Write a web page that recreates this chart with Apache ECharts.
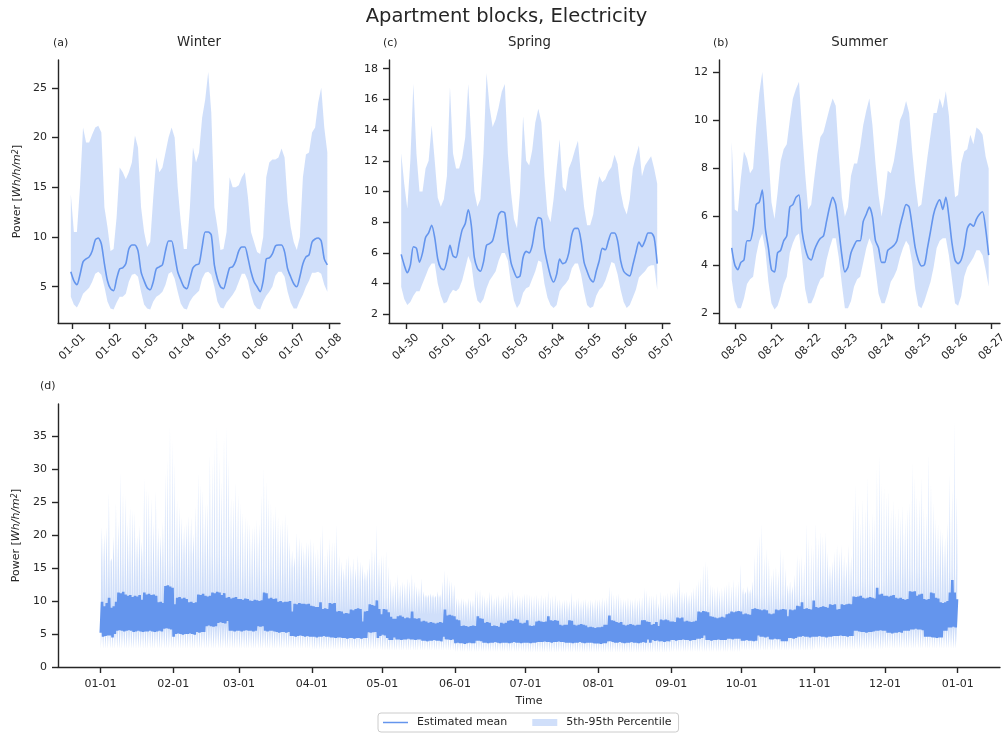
<!DOCTYPE html>
<html><head><meta charset="utf-8">
<script src="https://cdn.jsdelivr.net/npm/echarts@6/dist/echarts.min.js"></script>
<style>html,body{margin:0;padding:0;background:#fff}#c{width:1006px;height:735px}</style>
</head><body><div id="c"></div>
<script>
// ---------------- DATA ----------------
// Top panels: values every 2 hours (hour offsets relative to first labelled day 00:00)
const winterStartHour = -1, springStartHour = -3, summerStartHour = -2, stepHours = 2;
const winterLabels = ['01-01','01-02','01-03','01-04','01-05','01-06','01-07','01-08'];
const springLabels = ['04-30','05-01','05-02','05-03','05-04','05-05','05-06','05-07'];
const summerLabels = ['08-20','08-21','08-22','08-23','08-24','08-25','08-26','08-27'];

const winterMean = [6.5, 5.6,5.2,6.2,7.5,7.8,8.0,8.6,9.7,9.9,9.3,7.3,5.6, 4.8,4.6,5.8,6.8,6.9,7.3,8.8,9.2,9.2,8.6,6.5,5.6, 4.9,4.7,5.5,6.8,7.0,7.2,8.6,9.6,9.6,8.2,6.5,5.7, 5.0,4.8,5.8,6.9,7.2,7.3,9.0,10.5,10.5,10.2,7.2,5.8, 5.0,4.8,5.8,6.9,7.0,7.6,8.6,9.0,9.0,7.9,6.5,5.5, 5.0,4.5,5.6,7.8,7.9,8.3,9.1,9.2,9.2,8.5,6.8,6.0, 5.3,5.0,6.0,7.3,8.0,8.2,9.5,9.8,9.9,9.6,7.8,7.2];
const winterP95 = [14.3, 10.5,10.5,15,21,19.5,19.5,20.3,21,21.2,20.5,13,11, 8.6,8.8,12,17,16.5,15.8,16.5,17.5,20.2,19,13,10.5, 9,9.5,14,18,16.5,17,18.5,20,21,20,15,11.5, 8.8,8.8,13,19,17.5,18.5,22,23.8,26.6,22.5,13,11, 8.7,8.8,10.5,16,15,15,15.2,16,16.5,14,10.5,9.5, 8.5,8.3,10,16,17.5,17.8,17.8,18,18.9,18,13.5,11, 9.5,8.7,10,16,18.3,18.5,20.5,21,23.5,25,21,18.5];
const winterP5 = [4.0, 3.2,2.9,3.5,4.3,4.6,4.9,5.5,6.3,6.5,6.2,5.0,3.5, 2.8,2.7,3.4,4.0,4.0,4.3,5.5,6.2,6.3,6.0,4.5,3.2, 2.8,2.7,3.5,4.0,4.2,4.5,5.2,6.3,6.5,5.8,4.5,3.3, 2.8,2.7,3.5,4.0,4.3,4.6,5.8,6.4,6.5,6.2,5.0,3.5, 2.9,2.8,3.4,3.8,4.2,4.7,5.5,6.3,6.3,5.6,4.2,3.2, 2.8,2.7,3.5,4.1,4.5,5.0,6.1,6.5,6.5,6.0,4.5,3.4, 2.8,2.8,3.6,4.2,5.0,5.6,6.4,6.4,6.5,6.3,5.2,4.5];

const springMean = [5.9,5.2, 4.7,5.2,6.4,6.3,5.4,6.0,7.0,7.3,7.8,7.0,5.6,5.0, 4.9,5.5,6.5,5.8,5.7,6.6,7.5,7.9,8.8,7.8,5.7,5.0, 4.8,5.4,6.5,6.6,6.8,7.6,8.5,8.7,8.6,6.8,5.4,4.8, 4.4,4.5,5.7,6.1,6.0,6.5,7.7,8.3,8.2,6.3,5.3,4.5, 4.1,4.6,5.6,5.3,5.4,6.0,7.2,7.6,7.6,6.8,5.4,4.8, 4.3,4.1,4.8,5.5,6.3,6.2,6.8,7.3,7.3,6.8,5.5,4.8, 4.6,4.5,5.2,6.0,6.7,6.4,6.8,7.3,7.3,7.0,5.3];
const springP95 = [12.5,10.5, 8.9,12,17,12.5,10,10,11.5,12,14.3,12,9.6,9, 9.5,11,16.8,12.5,11.5,11.5,12.2,13.5,17,13.5,10,9, 9.5,12.5,17.7,15.5,14.2,14.7,15.5,16.5,17,12.5,10,8.2, 7.6,10,14.9,12,11.7,12.7,14.5,15.4,14.5,11,8.5,8, 9.5,11.5,13.4,10.3,10,11.5,12,12.7,13.3,11,9,7.8, 7.8,8.5,10,11,10.6,10.8,11.3,11.6,12.4,11.8,10,9, 8.5,9.5,11.5,12.3,13,11,11.7,12,12.3,11.5,10.5];
const springP5 = [3.8,3.0, 2.6,2.8,3.2,3.5,3.5,4.0,4.5,5.0,5.3,5.3,4.0,3.2, 2.7,2.8,3.3,3.6,3.5,3.7,4.2,5.0,5.8,5.3,3.8,2.9, 2.7,3.0,3.7,4.2,4.5,4.8,5.5,6.0,6.0,5.5,4.0,2.9, 2.4,2.7,3.4,3.7,3.8,4.3,4.8,5.5,5.4,4.0,3.1,2.6, 2.4,2.6,3.5,3.8,4.0,4.3,5.0,5.3,5.3,4.6,3.5,2.6, 2.4,2.5,3.2,3.6,3.8,4.2,4.8,5.4,5.3,4.6,3.6,2.8, 2.4,2.6,3.1,3.6,4.4,4.6,4.8,5.1,5.2,5.2,3.6];

const summerMean = [4.7, 4.0,3.8,4.1,4.2,5.0,5.0,5.5,6.5,6.6,7.1,5.5,4.7, 3.8,3.7,4.5,4.6,5.0,5.2,6.4,6.5,6.8,6.9,5.4,4.7, 4.3,4.2,4.6,4.9,5.1,5.2,5.8,6.4,6.8,6.5,5.5,4.4, 3.7,3.9,4.5,4.8,5.0,5.0,5.8,6.1,6.4,6.0,5.0,4.7, 4.1,4.1,4.6,4.7,4.8,5.0,5.6,6.1,6.5,6.4,5.6,4.7, 4.2,3.95,4.0,4.7,5.4,6.1,6.5,6.7,6.3,6.8,6.0,4.9, 4.2,4.05,4.2,4.7,5.5,5.7,5.6,5.9,6.1,6.2,5.5,4.4];
const summerP95 = [9.1, 6.3,6.2,7.6,8.7,8.4,7.8,8.0,9.7,11.1,12,10.3,8.6, 6.6,5.9,7.0,8.3,8.8,9.0,10.0,10.9,11.3,11.6,9.6,7.8, 6.3,6.5,7.6,8.6,9.3,9.5,10,10.5,10.9,10.6,8.6,6.8, 6.0,6.4,7.7,8.2,8.2,8.9,9.8,10.4,10.9,9.8,8.2,6.9, 6.0,6.8,7.9,7.8,8.3,9.1,10.0,10.3,10.8,10.3,8.7,7.4, 6.4,6.5,7.5,8.5,9.4,10.3,10.3,10.9,10.5,11.2,10.2,8.3, 6.8,6.9,8.2,8.7,8.8,9.4,9.0,9.7,9.6,9.4,8.5,8.0];
const summerP5 = [3.4, 2.5,2.2,2.2,2.6,3.2,3.4,3.5,4.4,5.0,5.3,4.6,3.3, 2.4,2.15,2.3,2.7,3.2,3.5,4.5,4.9,5.2,5.3,4.3,3.0, 2.4,2.4,2.7,3.1,3.4,3.5,4.2,4.7,5.1,5.1,4.3,3.2, 2.2,2.2,2.5,3.1,3.4,3.5,4.1,4.7,5.1,4.8,3.8,2.8, 2.4,2.4,2.8,3.3,3.5,3.8,4.3,4.7,5.0,4.8,4.1,3.0, 2.3,2.2,2.5,2.9,3.3,3.9,4.7,5.0,5.1,5.1,4.4,3.4, 2.4,2.3,2.7,3.5,3.9,4.1,4.3,4.6,4.6,4.4,3.8,3.1];

// Bottom panel: daily values over the year (day 0 = 01-01)
const monthTicks = [0,31,59,90,120,151,181,212,243,273,304,334,365];
const monthLabels = ['01-01','02-01','03-01','04-01','05-01','06-01','07-01','08-01','09-01','10-01','11-01','12-01','01-01'];

const yearMeanHigh = [
 9.9,9.2,9.7,10.5,9.0,9.2,9.9,11.3,11.2,11.4,11.0,10.8,10.9,10.6,10.8,10.7,10.9,10.2,11.3,11.0,11.1,10.9,11.0,10.8,9.8,9.9,9.7,12.3,12.4,12.2,12.0,
 9.5,10.5,10.6,10.4,10.5,10.3,9.8,9.9,9.7,9.8,11.0,10.9,11.1,10.8,10.7,10.8,11.3,11.2,11.4,11.3,10.9,11.2,10.5,10.6,10.4,10.5,10.6,10.3,
 10.3,10.2,10.4,10.3,10.1,10.0,10.2,10.1,10.0,10.1,11.3,11.2,10.4,10.5,10.3,10.4,9.9,10.0,9.8,9.9,9.9,10.0,8.4,9.6,9.5,9.7,9.6,9.6,9.5,9.6,9.3,
 9.2,9.1,9.1,9.8,8.8,8.9,8.8,9.7,9.6,9.7,8.4,8.5,8.4,8.1,8.2,8.1,8.7,8.6,8.8,8.9,8.8,6.9,8.4,8.5,9.5,9.4,9.3,10.1,8.8,8.0,
 8.8,8.7,8.3,7.6,7.3,7.3,7.7,7.8,7.6,7.4,7.5,7.4,8.4,7.4,7.3,7.4,6.9,7.0,6.9,6.7,6.8,6.7,6.6,6.7,6.8,6.7,8.7,7.8,7.9,7.8,7.7,
 7.2,7.1,6.2,6.3,6.2,6.1,6.2,6.3,6.2,7.7,7.4,7.3,6.7,6.8,6.7,6.2,6.3,6.2,6.1,6.7,6.6,6.7,7.0,7.1,7.0,7.3,7.2,6.7,6.6,6.7,
 7.1,6.3,6.2,6.3,6.9,7.0,6.9,6.8,6.9,7.7,7.1,7.0,7.1,7.0,6.4,6.3,6.4,6.4,7.1,7.0,6.4,6.3,6.4,6.5,6.4,6.3,6.0,6.1,6.0,5.9,6.0,
 6.0,6.1,6.4,6.4,7.8,7.1,7.0,6.8,6.7,6.8,6.4,6.3,6.4,6.5,6.4,6.3,6.4,6.4,7.1,7.1,6.9,6.8,6.4,6.5,6.8,6.2,7.2,7.1,7.2,7.1,6.9,
 6.9,6.8,7.5,7.4,7.5,6.9,7.0,6.9,6.8,6.9,7.0,8.4,8.3,8.5,8.4,8.3,7.7,7.6,7.5,7.4,7.5,7.6,7.5,8.0,8.1,8.4,8.3,8.4,8.5,8.4,
 8.0,8.1,8.0,7.9,8.8,8.9,8.8,8.7,8.6,8.7,8.6,8.1,8.0,8.1,8.7,8.6,8.7,8.8,8.7,7.7,8.7,8.6,8.7,9.3,9.2,9.8,8.8,8.9,8.8,8.7,10.1,
 9.1,9.0,9.1,9.2,9.1,9.0,9.5,9.4,9.5,8.7,8.8,9.5,9.4,9.5,9.6,9.5,10.7,10.6,10.7,10.8,10.5,10.4,10.5,10.6,10.5,10.4,12.0,11.0,11.1,10.8,
 10.8,10.7,10.8,10.9,10.5,10.4,10.5,10.3,10.2,10.3,11.5,11.4,11.5,10.8,11.0,11.1,10.3,10.2,10.3,11.3,11.2,10.5,10.4,9.8,9.7,9.8,10.0,11.3,13.2,11.3,10.3
];
const yearMeanLow = [
 5.2,4.6,4.7,4.8,4.8,4.5,5.0,5.5,5.6,5.5,5.4,5.5,5.6,5.5,5.3,5.4,5.5,5.4,5.3,5.4,5.4,5.5,5.4,5.3,5.4,5.5,5.4,5.8,5.9,5.8,5.7,
 4.6,5.0,5.1,5.0,4.9,5.0,5.0,5.1,5.0,4.9,5.3,5.2,5.3,5.3,6.2,6.3,6.2,6.1,6.2,6.7,6.8,6.7,6.6,7.0,5.5,5.5,5.4,5.5,
 5.5,5.4,5.5,5.6,5.5,5.5,5.4,5.5,6.2,6.1,6.2,5.5,5.4,5.5,5.5,5.4,5.3,5.2,5.3,5.3,5.2,5.3,4.7,4.7,4.6,4.7,4.8,4.7,4.6,4.7,4.6,
 4.6,4.6,4.5,4.6,4.6,4.7,4.6,4.6,4.5,4.5,4.4,4.5,4.5,4.4,4.4,4.3,4.4,4.4,4.3,4.4,4.4,4.3,4.4,4.4,5.3,5.2,5.3,5.3,4.4,4.7,
 4.9,4.8,4.4,4.1,4.1,4.5,4.2,4.2,4.1,4.2,4.2,4.3,4.2,4.2,4.1,4.2,4.2,4.0,4.0,3.9,4.0,4.0,4.1,4.0,4.0,3.9,4.6,4.2,4.2,4.1,4.2,
 3.6,3.7,3.6,3.6,3.5,3.6,3.7,3.6,3.6,4.0,4.0,3.9,3.7,3.7,3.6,3.7,3.7,3.8,3.7,3.6,3.7,3.7,3.7,3.6,3.7,3.8,3.7,3.7,3.6,3.7,
 3.7,3.7,3.6,3.7,3.7,3.8,3.8,3.8,3.9,3.8,3.8,3.7,3.8,3.8,3.9,3.8,3.8,3.7,3.7,3.7,3.6,3.7,3.7,3.8,3.7,3.6,3.7,3.7,3.7,3.6,3.6,
 3.6,3.5,3.6,3.6,3.9,3.9,3.8,3.7,3.7,3.8,3.7,3.6,3.7,3.7,3.8,3.7,3.7,3.6,3.7,3.8,3.7,4.2,3.7,4.1,3.95,4.05,3.9,3.9,3.8,3.9,3.9,
 4.1,4.1,4.0,4.1,4.1,4.2,4.1,4.1,4.0,4.1,4.1,4.3,4.3,4.4,4.8,4.1,4.1,4.0,4.1,4.1,4.2,4.1,4.1,4.1,4.3,4.3,4.2,4.3,4.3,4.3,
 4.0,4.0,4.1,4.0,4.0,3.9,4.0,4.8,4.6,4.6,4.5,4.6,4.2,4.2,4.3,4.2,4.2,3.9,3.9,3.9,4.4,4.4,4.3,4.4,4.6,4.6,4.7,4.6,4.6,4.5,4.6,
 4.6,4.6,4.7,4.6,4.6,4.5,4.6,4.6,4.7,4.7,4.7,4.8,4.7,4.7,4.6,4.7,4.7,5.5,5.5,5.4,5.3,5.3,5.2,5.3,5.3,5.4,5.5,5.5,5.6,5.5,
 5.5,5.2,5.2,5.1,5.2,5.2,5.3,5.2,5.5,5.5,5.5,5.7,5.7,5.8,5.7,5.7,5.6,4.6,4.6,4.6,4.5,4.5,4.4,4.5,4.5,5.5,5.5,6.0,6.0,6.1,6.0
];
const yearP95High = [
 21.2,20.2,21.2,26.6,16.5,19.8,25,22,29.6,26.5,26,22,24.3,23.9,23.5,20,21.5,19,28.6,27.1,26.8,25.6,22,26.8,21.2,20,22,29.6,31.4,36.4,34.4,
 30.9,25.3,24.3,22.8,21.5,22,23,22.8,20.2,24.3,29.3,27.8,26.8,24.8,25,32.4,30.9,33.4,36.4,31.9,28.3,34.9,36.4,31.4,25.7,25.5,28.1,26.3,
 24.8,23.5,22.8,22.3,21.8,21.2,21.5,22.3,21.8,26.3,30.1,28.3,25.7,24.8,23.3,24.4,22.8,21.8,22.3,23.3,21.8,19,17.7,16.7,20.4,19.7,19,18.2,19,18.8,19.5,
 19,17.5,18,20,21.5,17,18,19.5,19,19,21.6,17,16,15,16.5,17,15.5,16.5,15,17,16,15.5,14.5,15,16.5,18,17.5,21.5,16.5,17,
 17,17.7,15.4,13.4,12.4,13,14,12.5,13,12.7,13.5,13,14.2,13,12.2,12,13.5,11.5,11,11,11.2,11,10.8,11.5,11,13,14.7,14,13.2,13,12.5,
 10.5,10.3,10.5,10.3,10,10.5,10.2,10.2,11.8,11.6,11.8,11,10.8,10.5,11.5,11.2,10.5,10.8,11,10.5,10.8,11,11.5,11,11.8,10.5,11,10.8,10.8,11.2,
 11.2,11,10.8,10.8,11,10.5,11,10.6,10.8,11.6,10.6,10.8,11,10.2,10.3,10,10.2,10.2,10,11.3,10.2,10.3,10.5,10,10.2,10.3,10,10.2,10,10.3,10.2,
 10.3,10.5,10.2,10.5,12.2,11.6,11,11,11.2,10.5,10.3,10.2,10.5,10.3,10.2,10.5,10.2,10.5,10.6,12,11.6,10.9,10.9,10.8,11.2,9.7,11.5,11,11,11.3,11.6,
 11.3,11.5,12,13.3,11.5,11.3,11.5,11,11.5,12,12.5,13.2,13.6,15.5,16.1,15.5,12.5,12.2,12,12.3,11.6,12,12.3,12.5,13,12.2,13.3,12.5,13,15.6,
 12,11.5,12.3,11.8,13,17,18.5,20,21.8,17,18,16.5,14,15,15.2,14.5,18,17,15,12.5,13,12.3,14,17,16.5,17,16,21.8,19.5,18.5,18,
 21.8,19.5,20.5,20,20.5,17.5,15.5,16,17.5,18.5,17.5,18.5,17,16,18.5,17,24.3,27.6,25,22,25.5,24,28.8,22.5,23.5,23,30,32.1,28,27.5,
 26,26.8,24,25.3,23.5,24.3,23,24.5,22.5,24,25,30.9,28.8,26,25.5,28.8,24.3,23.5,32.4,28,25,22.5,21.8,21,20.5,19.7,22,29.3,27,37.2,26
];
// monthly levels of the band edges: night and daytime top of the 95th band, night and evening bottom of the 5th band
const monthP95Night = [9.0,9.5,9.0,8.5,8.0,6.8,6.3,6.2,6.8,7.8,8.5,9.0];
const monthP95Day = [16,17,15,13,10.5,9,8.5,8.5,9.5,11,13,15];
const monthP5Night = [2.8,2.8,2.8,2.7,2.5,2.3,2.2,2.2,2.3,2.5,2.7,2.8];
const monthP5Evening = [6.3,6.3,6.0,5.5,5.2,4.8,4.8,4.9,5.0,5.3,5.8,6.2];

// ---------------- CHART ----------------
const INK = '#262626';
const MEAN_C = '#6495ED';
const BAND_C = 'rgba(100,149,237,0.3)';
const FONT = 'DejaVu Sans';

function xy(start, step, vals) { return vals.map((v, i) => [start + step * i, v]); }
function monthOf(d) { let m = 0; while (m < 11 && d >= monthTicks[m + 1]) m++; return m; }

function bandSeries(idx, upper, lower) {
  return {
    type: 'custom', name: '5th-95th Percentile', xAxisIndex: idx, yAxisIndex: idx,
    silent: true, z: 1, clip: true, itemStyle: { color: BAND_C },
    data: [[upper[0][0], upper[0][1]]],
    renderItem: function (params, api) {
      const pts = [];
      for (let i = 0; i < upper.length; i++) pts.push(api.coord(upper[i]));
      for (let i = lower.length - 1; i >= 0; i--) pts.push(api.coord(lower[i]));
      return { type: 'polygon', shape: { points: pts }, style: { fill: BAND_C } };
    }
  };
}
function meanSeries(idx, pts, smooth, width) {
  return {
    type: 'line', name: 'Estimated mean', xAxisIndex: idx, yAxisIndex: idx, z: 3,
    data: pts, symbol: 'none', smooth: smooth, sampling: 'none',
    lineStyle: { color: MEAN_C, width: width, join: 'bevel' }, itemStyle: { color: MEAN_C }
  };
}

// Bottom panel point sets (night low ~03:30, daytime level, evening high ~15:00)
const yMeanPts = [], yUpper = [], yLower = [];
for (let d = 0; d < yearMeanHigh.length; d++) {
  const m = monthOf(d);
  yMeanPts.push([d + 0.15, yearMeanLow[d]], [d + 0.7, yearMeanHigh[d]]);
  yUpper.push([d + 0.15, monthP95Night[m]], [d + 0.35, monthP95Day[m]], [d + 0.62, yearP95High[d]], [d + 0.85, monthP95Day[m]]);
  yLower.push([d + 0.15, monthP5Night[m]], [d + 0.7, monthP5Evening[m]]);
}

const axisLineStyle = { color: INK, width: 1.4 };
const labelStyle = { color: INK, fontSize: 11, fontFamily: FONT };
const yName = '{n|Power [}{i|Wh/h/m}{s|2}{n|]}';
const yNameStyle = {
  color: INK, fontSize: 11, fontFamily: FONT,
  rich: {
    n: { fontSize: 11, fontFamily: FONT, color: INK },
    i: { fontSize: 11, fontFamily: FONT, color: INK, fontStyle: 'italic' },
    s: { fontSize: 8, fontFamily: FONT, color: INK, fontStyle: 'italic', verticalAlign: 'top' }
  }
};

function topX(idx, min, max, labels) {
  const ticks = labels.map((_, i) => i * 24);
  return {
    type: 'value', gridIndex: idx, min: min, max: max,
    axisLine: { show: true, onZero: false, lineStyle: axisLineStyle },
    axisTick: { show: true, length: 6, lineStyle: axisLineStyle, customValues: ticks },
    axisLabel: Object.assign({ customValues: ticks, rotate: 45, align: 'center', verticalAlign: 'middle', margin: 24,
      formatter: v => labels[Math.round(v / 24)] }, labelStyle),
    splitLine: { show: false }
  };
}
function yAx(idx, min, max, ticks, named) {
  const a = {
    type: 'value', gridIndex: idx, min: min, max: max,
    axisLine: { show: true, onZero: false, lineStyle: axisLineStyle },
    axisTick: { show: true, length: 6, lineStyle: axisLineStyle, customValues: ticks },
    axisLabel: Object.assign({ customValues: ticks, margin: 11, formatter: v => String(v) }, labelStyle),
    splitLine: { show: false }
  };
  if (named) {
    a.name = yName; a.nameLocation = 'middle'; a.nameRotate = 90; a.nameGap = 35; a.nameTextStyle = yNameStyle;
  }
  return a;
}

function ttl(text, left, top, size, align) {
  return { text: text, left: left, top: top, padding: 0, textAlign: align,
    textStyle: { fontSize: size, fontWeight: 'normal', color: INK, fontFamily: FONT } };
}

const option = {
  animation: false,
  backgroundColor: '#ffffff',
  textStyle: { fontFamily: FONT },
  title: [
    ttl('Apartment blocks, Electricity', 506.5, 7, 19.5, 'center'),
    ttl('Winter', 199, 36, 13.3, 'center'),
    ttl('Spring', 529.5, 36, 13.3, 'center'),
    ttl('Summer', 859.5, 36, 13.3, 'center'),
    ttl('(a)', 53, 37.5, 11, 'left'),
    ttl('(c)', 383, 37.5, 11, 'left'),
    ttl('(b)', 713, 37.5, 11, 'left'),
    ttl('(d)', 40, 380.5, 11, 'left')
  ],
  legend: {
    left: 378, top: 713, orient: 'horizontal', padding: [4, 7, 4, 5], itemGap: 25,
    itemWidth: 25, itemHeight: 7, borderColor: '#cccccc', borderWidth: 1, borderRadius: 3,
    backgroundColor: '#ffffff', selectedMode: false,
    textStyle: { fontSize: 11, color: INK, fontFamily: FONT, padding: [0, 0, 0, 4] },
    data: [
      { name: 'Estimated mean', icon: 'path://M0,0H25V1.5H0Z', itemStyle: { color: MEAN_C, borderWidth: 0 }, lineStyle: { width: 0 } },
      { name: '5th-95th Percentile', icon: 'rect', itemStyle: { color: BAND_C, borderWidth: 0 } }
    ]
  },
  grid: [
    { left: 58, top: 60, width: 282, height: 263, outerBoundsMode: 'none' },
    { left: 389, top: 60, width: 281, height: 263, outerBoundsMode: 'none' },
    { left: 719, top: 60, width: 281, height: 263, outerBoundsMode: 'none' },
    { left: 58, top: 404, width: 942, height: 263, outerBoundsMode: 'none' }
  ],
  xAxis: [
    topX(0, -9.4, 175.3, winterLabels),
    topX(1, -11, 173.4, springLabels),
    topX(2, -10.3, 173.4, summerLabels),
    {
      type: 'value', gridIndex: 3, min: -18.06, max: 383,
      name: 'Time', nameLocation: 'middle', nameGap: 29,
      nameTextStyle: { color: INK, fontSize: 11, fontFamily: FONT },
      axisLine: { show: true, onZero: false, lineStyle: axisLineStyle },
      axisTick: { show: true, length: 6, lineStyle: axisLineStyle, customValues: monthTicks },
      axisLabel: Object.assign({ customValues: monthTicks, margin: 12,
        formatter: v => monthLabels[monthTicks.indexOf(Math.round(v))] }, labelStyle),
      splitLine: { show: false }
    }
  ],
  yAxis: [
    yAx(0, 1.35, 27.8, [5, 10, 15, 20, 25], true),
    yAx(1, 1.43, 18.57, [2, 4, 6, 8, 10, 12, 14, 16, 18], false),
    yAx(2, 1.585, 12.5, [2, 4, 6, 8, 10, 12], false),
    yAx(3, 0, 39.9, [0, 5, 10, 15, 20, 25, 30, 35], true)
  ],
  series: [
    bandSeries(0, xy(winterStartHour, stepHours, winterP95), xy(winterStartHour, stepHours, winterP5)),
    meanSeries(0, xy(winterStartHour, stepHours, winterMean), 0.25, 1.6),
    bandSeries(1, xy(springStartHour, stepHours, springP95), xy(springStartHour, stepHours, springP5)),
    meanSeries(1, xy(springStartHour, stepHours, springMean), 0.25, 1.6),
    bandSeries(2, xy(summerStartHour, stepHours, summerP95), xy(summerStartHour, stepHours, summerP5)),
    meanSeries(2, xy(summerStartHour, stepHours, summerMean), 0.25, 1.6),
    bandSeries(3, yUpper, yLower),
    meanSeries(3, yMeanPts, false, 2.6)
  ]
};

const chart = echarts.init(document.getElementById('c'), null, { renderer: 'canvas' });
chart.setOption(option);
</script></body></html>
